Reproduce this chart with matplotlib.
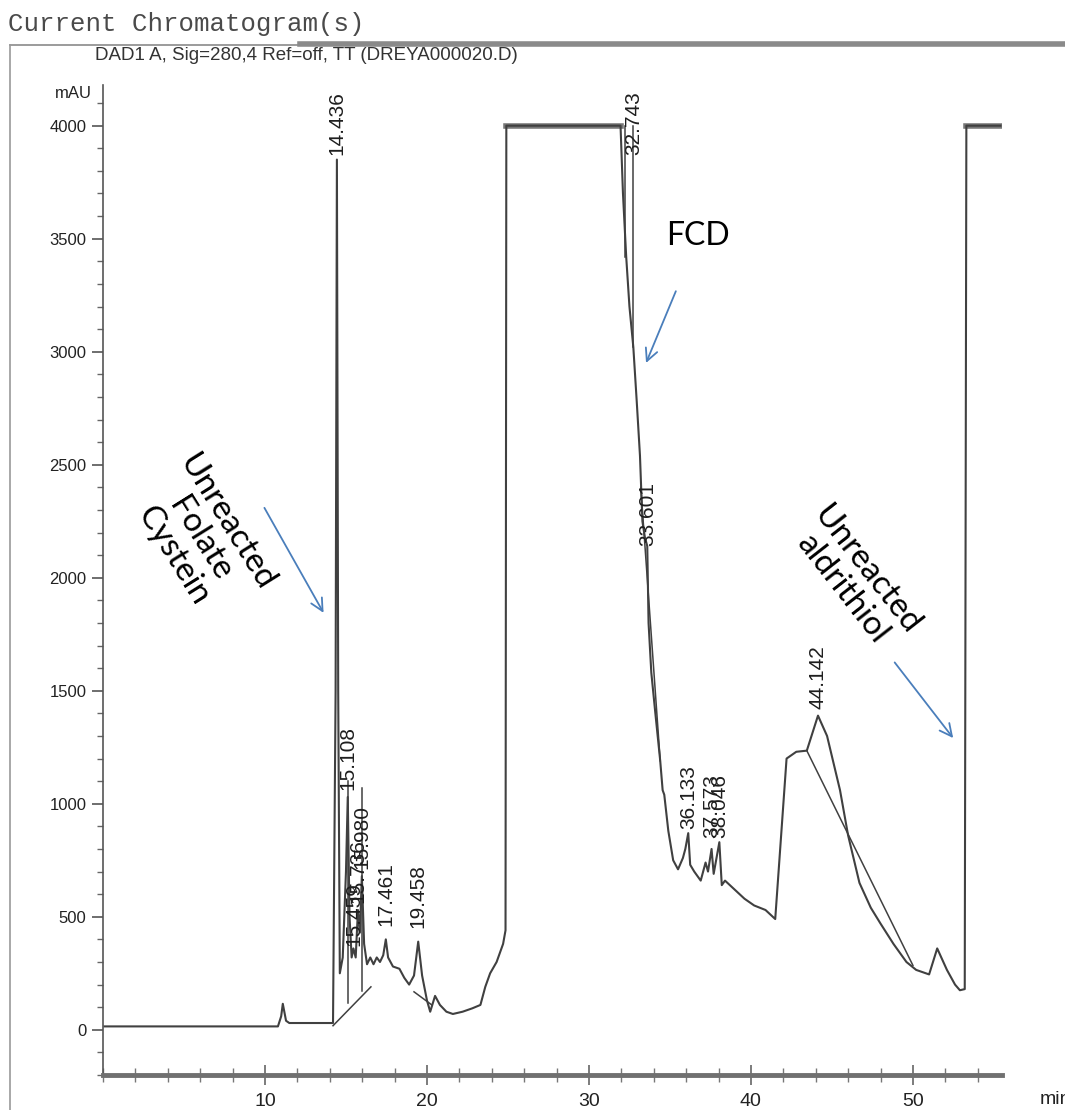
import matplotlib
matplotlib.use('Agg')
import matplotlib.pyplot as plt
from matplotlib.lines import Line2D
from matplotlib.ticker import MultipleLocator
import numpy as np

# detector trace (min, mAU)
t_min = [0.1, 10.8, 11.0, 11.1, 11.3, 11.5, 14.2, 14.36, 14.44, 14.52, 14.62, 14.8,
         15.0, 15.11, 15.22, 15.35, 15.46, 15.6, 15.74, 15.86, 15.98, 16.12, 16.3,
         16.5, 16.7, 16.9, 17.1, 17.3, 17.46, 17.6, 17.9, 18.3, 18.6, 18.9, 19.2,
         19.46, 19.7, 20.0, 20.2, 20.5, 20.8, 21.2, 21.6, 22.2, 22.8, 23.3, 23.6,
         23.9, 24.3, 24.7, 24.85, 24.9, 31.95, 32.1, 32.3, 32.5, 32.74, 32.95,
         33.15, 33.3, 33.45, 33.6, 33.68, 33.85, 34.1, 34.4, 34.55, 34.65, 34.9,
         35.2, 35.5, 35.8, 35.95, 36.13, 36.25, 36.5, 36.9, 37.2, 37.35, 37.57,
         37.7, 38.05, 38.2, 38.4, 39.0, 39.6, 40.2, 40.9, 41.5, 42.2, 42.8, 43.45,
         44.14, 44.7, 45.5, 46.0, 46.7, 47.4, 48.0, 48.8, 49.6, 50.2, 51.0, 51.5,
         52.1, 52.6, 52.9, 53.2, 53.3, 55.4]
mau = [15, 15, 60, 115, 40, 30, 30, 1500, 3850, 1500, 250, 320,
       700, 1030, 500, 320, 360, 320, 530, 430, 680, 380, 290,
       320, 290, 320, 300, 330, 400, 320, 280, 270, 230, 200, 240,
       390, 240, 130, 80, 150, 110, 80, 70, 80, 95, 110, 190,
       250, 300, 380, 440, 4000, 4000, 3700, 3420, 3200, 3020, 2780,
       2540, 2250, 2180, 2140, 1800, 1580, 1400, 1190, 1060, 1040, 880,
       750, 710, 760, 800, 870, 730, 700, 660, 740, 700, 800,
       690, 830, 640, 660, 620, 580, 550, 530, 490, 1200, 1230, 1235,
       1390, 1300, 1060, 860, 650, 540, 470, 380, 300, 265, 245, 360,
       265, 200, 175, 180, 4000, 4000]

# integration baselines and drop lines
base_t = [[14.2, 16.54], [19.2, 20.3], [33.2, 34.4], [43.45, 50.0]]
base_v = [[18, 190], [168, 110], [2400, 1190], [1235, 285]]
drop_t = [32.25, 32.74, 15.11, 15.98]
drop_top = [4000, 4000, 1100, 1070]
drop_bot = [3420, 3020, 120, 170]

# peak retention times and apex heights
peak_t = ['14.436', '15.108', '15.459', '15.736', '15.980', '17.461', '19.458',
          '32.743', '33.601', '36.133', '37.573', '38.046', '44.142']
peak_h = [3850, 1030, 340, 530, 680, 430, 420, 3850, 2110, 860, 820, 820, 1390]

W, H = 1065, 1110
fig = plt.figure(figsize=(W / 100, H / 100), dpi=100)
ax = fig.add_axes([103 / W, 1 - 1075 / H, 899 / W, 990 / H])
ax.set_xlim(0, 55.5)
ax.set_ylim(-200, 4180)

trace = '#404040'
ax.plot(t_min, mau, color=trace, lw=1.5, zorder=3)
t_arr, v_arr = np.array(t_min), np.array(mau)
sat = v_arr >= 4000
for i in range(len(t_arr) - 1):
    if sat[i] and sat[i + 1]:
        ax.plot(t_arr[i:i + 2], v_arr[i:i + 2], color='#777777', lw=4, zorder=2)
for bt, bv in zip(base_t, base_v):
    ax.plot(bt, bv, color=trace, lw=1.1, zorder=3)
for dt, d0, d1 in zip(drop_t, drop_top, drop_bot):
    ax.plot([float(dt)] * 2, [d0, d1], color=trace, lw=1.1, zorder=3)

lab_font = ['Liberation Sans', 'DejaVu Sans']
narrow = ['Liberation Sans Narrow', 'Liberation Sans']
for lt, lh in zip(peak_t, peak_h):
    ax.text(float(lt), min(lh + 30, 3870), lt, rotation=90, ha='center', va='bottom',
            fontsize=15, family=lab_font, color='#1e1e1e', zorder=4)

# axes styling, like the instrument printout
for s in ['top', 'right']:
    ax.spines[s].set_visible(False)
ax.spines['left'].set_color('#555555')
ax.spines['left'].set_linewidth(1.2)
ax.spines['bottom'].set_color('#707070')
ax.spines['bottom'].set_linewidth(3.5)
ax.yaxis.set_major_locator(MultipleLocator(500))
ax.yaxis.set_minor_locator(MultipleLocator(100))
ax.set_yticks(range(0, 4001, 500))
ax.xaxis.set_major_locator(MultipleLocator(10))
ax.xaxis.set_minor_locator(MultipleLocator(2))
ax.set_xticks([10, 20, 30, 40, 50])
ax.tick_params(axis='y', which='major', length=8, width=1.2, color='#555555',
               labelsize=12, pad=4)
ax.tick_params(axis='y', which='minor', length=4, width=1.0, color='#666666')
ax.tick_params(axis='x', which='major', direction='inout', length=14, width=1.2,
               color='#666666', labelsize=14, pad=6)
ax.tick_params(axis='x', which='minor', direction='inout', length=10, width=1.0,
               color='#777777')
for lab in ax.get_yticklabels():
    lab.set_family(lab_font)
    lab.set_color('#222222')
for lab in ax.get_xticklabels():
    lab.set_family(narrow)
    lab.set_color('#222222')

fig.text(73 / W, 1 - 93 / H, 'mAU', ha='center', va='center', fontsize=12,
         family=lab_font, color='#222222')
fig.text(1040 / W, 1 - 1100 / H, 'min', ha='left', va='center', fontsize=14,
         family=narrow, color='#222222')

# printout header
fig.text(8 / W, 1 - 24 / H, 'Current Chromatogram(s)', ha='left', va='center',
         fontsize=18.5, family=['Liberation Mono', 'DejaVu Sans Mono'], color='#4a4a4a')
fig.text(95 / W, 1 - 55 / H, 'DAD1 A, Sig=280,4 Ref=off, TT (DREYA000020.D)',
         ha='left', va='center', fontsize=13.5, family=narrow, color='#333333')
fig.add_artist(Line2D([10 / W, 300 / W], [1 - 45 / H] * 2, transform=fig.transFigure,
                      color='#8a8a8a', lw=1.2))
fig.add_artist(Line2D([300 / W, 1.0], [1 - 44 / H] * 2, transform=fig.transFigure,
                      color='#8a8a8a', lw=4))
fig.add_artist(Line2D([10 / W] * 2, [1 - 45 / H, 0], transform=fig.transFigure,
                      color='#9a9a9a', lw=1.2))

# hand-added annotations
blue = '#4a7ebb'
ann_font = ['Lato', 'DejaVu Sans']
arrow = dict(arrowstyle='->', color=blue, lw=1.3, mutation_scale=22)
ax.annotate('', xy=(13.70, 1834), xytext=(9.88, 2320), arrowprops=arrow)
ax.annotate('', xy=(33.46, 2939), xytext=(35.43, 3279), arrowprops=arrow)
ax.annotate('', xy=(52.59, 1281), xytext=(48.77, 1635), arrowprops=arrow)
ax.text(36.73, 3513, 'FCD', ha='center', va='center', fontsize=23, family=ann_font)
ax.text(6.0, 2170, 'Unreacted\nFolate\nCystein', ha='center', va='center',
        multialignment='center', rotation=-58, rotation_mode='anchor',
        fontsize=24, family=ann_font, linespacing=1.05)
ax.text(46.4, 1990, 'Unreacted\naldrithiol', ha='center', va='center',
        multialignment='center', rotation=-52, rotation_mode='anchor',
        fontsize=24, family=ann_font, linespacing=1.05)

fig.savefig('out.png', dpi=100)
